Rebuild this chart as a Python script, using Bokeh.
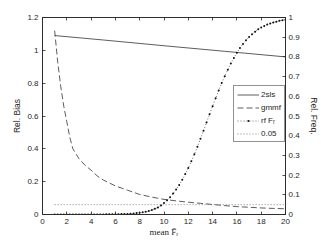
import math
from bokeh.plotting import figure
from bokeh.models import (Range1d, LinearAxis, FixedTicker, Legend, LegendItem,
                          CustomJSTickFormatter)
from bokeh.embed import file_html
from bokeh.resources import INLINE

# ---- data ----
x_2sls = [1, 5, 10, 15, 20]
bias_2sls = [1.09, 1.063, 1.028, 0.994, 0.96]

x_gmmf = [1, 1.25, 1.5, 1.75, 2, 2.25, 2.5, 3, 3.5, 4, 4.5, 5, 6, 7, 8, 9, 10,
          11, 12, 13, 14, 15, 16, 17, 18, 19, 20]
bias_gmmf = [1.12, 0.93, 0.78, 0.66, 0.565, 0.47, 0.40, 0.34, 0.30, 0.27, 0.235,
             0.21, 0.174, 0.148, 0.122, 0.106, 0.092, 0.083, 0.075, 0.068, 0.061,
             0.054, 0.048, 0.044, 0.040, 0.037, 0.035]

x_rf = [1.0, 1.25, 1.5, 1.75, 2.0, 2.25, 2.5, 2.75, 3.0, 3.25, 3.5, 3.75,
        4.0, 4.25, 4.5, 4.75, 5.0, 5.25, 5.5, 5.75, 6.0, 6.25, 6.5, 6.75,
        7.0, 7.25, 7.5, 7.75, 8.0, 8.25, 8.5, 8.75, 9.0, 9.25, 9.5, 9.75,
        10.0, 10.25, 10.5, 10.75, 11.0, 11.25, 11.5, 11.75, 12.0, 12.25, 12.5, 12.75,
        13.0, 13.25, 13.5, 13.75, 14.0, 14.25, 14.5, 14.75, 15.0, 15.25, 15.5, 15.75,
        16.0, 16.25, 16.5, 16.75, 17.0, 17.25, 17.5, 17.75, 18.0, 18.25, 18.5, 18.75,
        19.0, 19.25, 19.5, 19.75, 20.0]
freq_rf = [0.0, 0.0, 0.0, 0.0, 0.0, 0.0, 0.0, 0.0, 0.0, 0.0, 0.0, 0.0,
           0.0, 0.0, 0.0, 0.0, 0.0, 0.001, 0.001, 0.001, 0.001, 0.001, 0.002, 0.002,
           0.003, 0.004, 0.005, 0.007, 0.009, 0.011, 0.014, 0.018, 0.023, 0.029, 0.036, 0.046,
           0.058, 0.072, 0.088, 0.106, 0.127, 0.150, 0.176, 0.205, 0.236, 0.270, 0.306, 0.344,
           0.384, 0.425, 0.467, 0.509, 0.550, 0.590, 0.630, 0.667, 0.702, 0.735, 0.766, 0.795,
           0.821, 0.845, 0.866, 0.885, 0.901, 0.915, 0.928, 0.940, 0.949, 0.957, 0.964, 0.970,
           0.975, 0.979, 0.983, 0.986, 0.989]

x_ref = [1, 20]
freq_ref = [0.05, 0.05]

x_ticks = [0, 2, 4, 6, 8, 10, 12, 14, 16, 18, 20]
x_tick_labels = ["0", "2", "4", "6", "8", "10", "12", "14", "16", "18", "20"]
left_ticks = [0, 0.2, 0.4, 0.6, 0.8, 1.0, 1.2]
left_tick_labels = ["0", "0.2", "0.4", "0.6", "0.8", "1", "1.2"]
right_ticks = [0, 0.1, 0.2, 0.3, 0.4, 0.5, 0.6, 0.7, 0.8, 0.9, 1.0]
right_tick_labels = ["0", "0.1", "0.2", "0.3", "0.4", "0.5", "0.6", "0.7", "0.8", "0.9", "1"]

legend_labels = ["2sls", "gmmf", "rf F\u1d63", "0.05"]
x_label = "mean F\u0304\u1d63"
left_label = "Rel. Bias"
right_label = "Rel. Freq."

# ---- style ----
AX = "#262626"
SANS = "Liberation Sans"
TICK_FS = "8px"
LABEL_FS = "8.5px"

p = figure(width=321, height=241, output_backend="svg", toolbar_location=None,
           x_range=Range1d(0, 20), y_range=Range1d(0, 1.2),
           min_border_left=42, min_border_right=32, min_border_top=17,
           min_border_bottom=27, x_axis_location=None, y_axis_location=None)
p.extra_y_ranges = {"right": Range1d(0, 1)}
p.xgrid.visible = False
p.ygrid.visible = False
p.outline_line_color = AX
p.outline_line_width = 0.8
p.background_fill_color = "white"
p.border_fill_color = "white"


def style_axis(ax, ticks, labels):
    ax.ticker = FixedTicker(ticks=ticks)
    if labels is not None:
        ax.major_label_overrides = {t: s for t, s in zip(ticks, labels)}
    ax.minor_tick_line_color = None
    ax.major_tick_in = 3
    ax.major_tick_out = 0
    ax.axis_line_color = AX
    ax.axis_line_width = 0.8
    ax.major_tick_line_color = AX
    ax.major_tick_line_width = 0.8
    ax.major_label_text_font = SANS
    ax.major_label_text_font_size = TICK_FS
    ax.major_label_text_color = AX
    ax.axis_label_text_font = SANS
    ax.axis_label_text_font_size = LABEL_FS
    ax.axis_label_text_font_style = "normal"
    ax.axis_label_text_color = AX


bottom = LinearAxis(axis_label=x_label)
style_axis(bottom, x_ticks, x_tick_labels)
bottom.major_label_standoff = 4
bottom.axis_label_standoff = 0
bottom.axis_label_text_font = "Liberation Serif"
bottom.axis_label_text_font_size = "9px"
p.add_layout(bottom, "below")

top = LinearAxis(formatter=CustomJSTickFormatter(code="return ''"))
style_axis(top, x_ticks, None)
top.major_label_standoff = 0
top.major_label_text_font_size = "1px"
p.add_layout(top, "above")

left = LinearAxis(axis_label=left_label)
style_axis(left, left_ticks, left_tick_labels)
left.major_label_standoff = 4
left.axis_label_standoff = 2
p.add_layout(left, "left")

right = LinearAxis(y_range_name="right", axis_label=right_label)
style_axis(right, right_ticks, right_tick_labels)
right.major_label_standoff = 3
right.axis_label_standoff = 6
p.add_layout(right, "right")

r_2sls = p.line(x_2sls, bias_2sls, line_color="#333333", line_width=0.8)
r_gmmf = p.line(x_gmmf, bias_gmmf, line_color="#333333", line_width=0.8,
                line_dash="6 3")
r_rf_line = p.line(x_rf, freq_rf, y_range_name="right", line_color="#333333",
                   line_width=0.7, line_dash="1 2")
r_rf_pts = p.scatter(x_rf, freq_rf, y_range_name="right", marker="circle",
                     size=2.0, fill_color="#111111", line_color=None)
r_ref = p.line(x_ref, freq_ref, y_range_name="right", line_color="#555555",
               line_width=0.7, line_dash="1 2")

legend = Legend(items=[
    LegendItem(label=legend_labels[0], renderers=[r_2sls]),
    LegendItem(label=legend_labels[1], renderers=[r_gmmf]),
    LegendItem(label=legend_labels[2], renderers=[r_rf_line, r_rf_pts]),
    LegendItem(label=legend_labels[3], renderers=[r_ref]),
], location=(191, 72))
legend.label_text_font = SANS
legend.label_text_font_size = TICK_FS
legend.label_text_color = AX
legend.glyph_width = 22
legend.glyph_height = 5
legend.label_height = 10
legend.label_standoff = 2
legend.spacing = 3
legend.padding = 3
legend.margin = 0
legend.border_line_color = AX
legend.border_line_width = 0.8
legend.background_fill_color = "white"
legend.background_fill_alpha = 1.0
p.add_layout(legend, "center")

open("out.html", "w").write(file_html(p, INLINE))
